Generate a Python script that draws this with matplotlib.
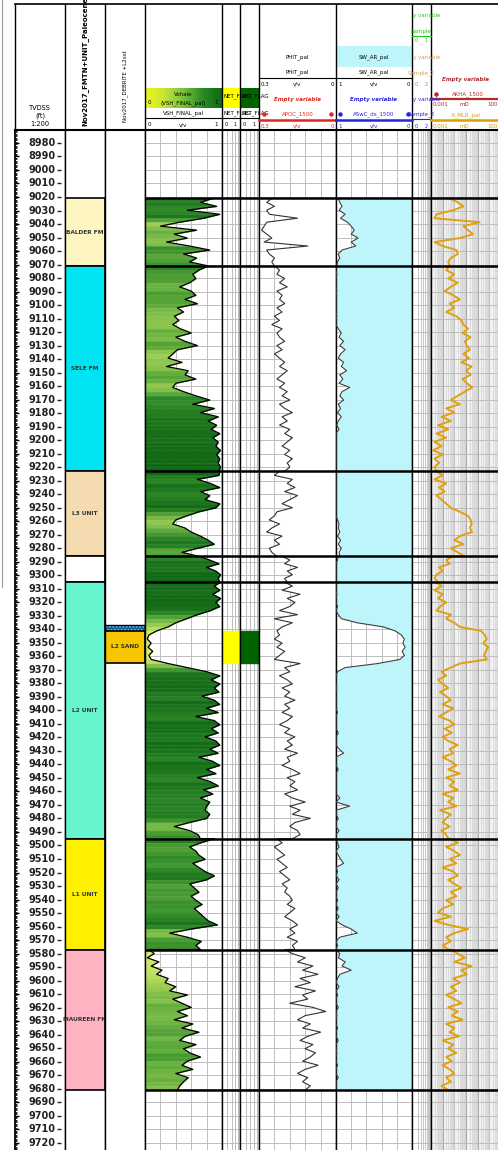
import numpy as np
import matplotlib
matplotlib.use('Agg')
import matplotlib.pyplot as plt
from matplotlib.colors import LinearSegmentedColormap
from matplotlib.patches import Rectangle
from matplotlib.lines import Line2D
from matplotlib.ticker import LogLocator, NullFormatter, FixedLocator

W, H = 498, 1150
HEAD = 130
D_TOP, D_BOT = 8970.4, 9725.4

# formation / unit tops
zone_tops = [9021, 9071, 9223, 9286, 9305, 9495, 9577]
zone_bases = [9071, 9223, 9286, 9305, 9495, 9577, 9681]
zone_names = ['BALDER FM', 'SELE FM', 'L3 UNIT', '', 'L2 UNIT', 'L1 UNIT', 'MAUREEN FM']
zone_colors = ['#fdf6c3', '#00e4f2', '#f4dcb0', '#ffffff', '#66f5cf', '#fff000', '#ffb3c1']

# debrite / sand
debrite_top, sand_top, sand_base = 9337, 9341, 9365
net_tops = [9341]
net_bases = [9365]

# VSH_FINAL_pal (v/v), one list per zone
vsh_balder = [0.88, 0.72, 0.93, 0.55, 0.97, 0.76, 0.45, 0.20, 0.67, 0.38, 0.55, 0.28, 0.58, 0.84, 0.50, 0.67, 0.58, 0.82]
vsh_sele = [0.82, 0.70, 0.62, 0.66, 0.58, 0.45, 0.60, 0.66, 0.52, 0.68,
            0.42, 0.50, 0.38, 0.44, 0.36, 0.46, 0.60, 0.40, 0.52, 0.68,
            0.42, 0.36, 0.30, 0.48, 0.28, 0.56, 0.52, 0.66, 0.40, 0.36,
            0.50, 0.66, 0.84, 0.62, 0.90, 0.72, 0.95, 0.82, 0.93, 0.86,
            0.97, 0.88, 0.95, 0.92, 0.98, 0.93, 0.97, 0.95, 0.98, 0.96]
vsh_l3 = [0.97, 0.96, 0.68, 0.85, 0.97, 0.72, 0.84, 0.78, 0.97, 0.92, 0.70,
          0.54, 0.40, 0.36, 0.52, 0.60, 0.72, 0.82, 0.90, 0.68, 0.48, 0.70]
vsh_gap = [0.70, 0.84, 0.96, 0.80, 0.92, 0.98, 0.95, 0.97]
vsh_l2 = [0.98, 0.90, 0.97, 0.88, 0.98, 0.92, 0.97, 0.85, 0.68, 0.54,
          0.40, 0.30, 0.15, 0.05, 0.03, 0.08, 0.04, 0.10, 0.05, 0.08,
          0.30, 0.55, 0.80, 0.97, 0.86, 0.97, 0.90, 0.96, 0.74, 0.90,
          0.97, 0.80, 0.95, 0.66, 0.90, 0.97, 0.86, 0.95, 0.78, 0.92,
          0.97, 0.84, 0.95, 0.70, 0.88, 0.97, 0.80, 0.92, 0.68, 0.85,
          0.95, 0.76, 0.88, 0.72, 0.84, 0.80, 0.78, 0.84, 0.80, 0.58,
          0.38, 0.58, 0.69, 0.72]
vsh_l1 = [0.90, 0.72, 0.58, 0.66, 0.70, 0.78, 0.62, 0.70, 0.78, 0.90,
          0.80, 0.58, 0.64, 0.70, 0.60, 0.66, 0.74, 0.64, 0.70, 0.76,
          0.82, 0.94, 0.60, 0.32, 0.55, 0.73, 0.66, 0.72]
vsh_maureen = [0.05, 0.12, 0.03, 0.18, 0.08, 0.22, 0.15, 0.30, 0.26, 0.40,
               0.32, 0.55, 0.36, 0.48, 0.60, 0.42, 0.55, 0.38, 0.62, 0.48,
               0.70, 0.52, 0.45, 0.66, 0.50, 0.58, 0.72, 0.55, 0.48, 0.62,
               0.40, 0.56, 0.50, 0.45, 0.42]

# PHIT_pal (v/v)
phit_balder = [0.25, 0.27, 0.24, 0.27, 0.26, 0.15, 0.27, 0.28, 0.29, 0.27, 0.25, 0.28, 0.11, 0.27, 0.26, 0.24, 0.25, 0.24]
phit_sele = [0.24, 0.22, 0.23, 0.20, 0.22, 0.19, 0.23, 0.21, 0.22, 0.20,
             0.23, 0.21, 0.24, 0.22, 0.25, 0.21, 0.23, 0.22, 0.20, 0.23,
             0.21, 0.24, 0.22, 0.20, 0.22, 0.19, 0.21, 0.23, 0.20, 0.22,
             0.19, 0.21, 0.18, 0.22, 0.20, 0.17, 0.21, 0.19, 0.22, 0.18,
             0.20, 0.17, 0.19, 0.21, 0.18, 0.20, 0.17, 0.19, 0.18, 0.20]
phit_l3 = [0.22, 0.24, 0.17, 0.19, 0.16, 0.20, 0.15, 0.18, 0.21, 0.17, 0.23,
           0.24, 0.26, 0.22, 0.25, 0.27, 0.21, 0.24, 0.22, 0.26, 0.25, 0.23]
phit_gap = [0.21, 0.18, 0.20, 0.15, 0.19, 0.17, 0.20, 0.19]
phit_l2 = [0.20, 0.17, 0.21, 0.14, 0.19, 0.16, 0.18, 0.22, 0.15, 0.24,
           0.17, 0.21, 0.23, 0.22, 0.24, 0.21, 0.23, 0.20, 0.22, 0.24,
           0.14, 0.20, 0.18, 0.22, 0.19, 0.17, 0.21, 0.18, 0.20, 0.16,
           0.20, 0.18, 0.21, 0.17, 0.19, 0.22, 0.18, 0.20, 0.16, 0.19,
           0.17, 0.20, 0.15, 0.19, 0.18, 0.21, 0.17, 0.14, 0.19, 0.16,
           0.18, 0.15, 0.20, 0.17, 0.12, 0.18, 0.14, 0.17, 0.10, 0.16,
           0.18, 0.15, 0.14, 0.17]
phit_l1 = [0.23, 0.21, 0.24, 0.22, 0.20, 0.23, 0.21, 0.19, 0.22, 0.20,
           0.18, 0.21, 0.19, 0.20, 0.18, 0.17, 0.19, 0.16, 0.18, 0.20,
           0.17, 0.15, 0.18, 0.16, 0.19, 0.15, 0.17, 0.16]
phit_maureen = [0.20, 0.17, 0.12, 0.15, 0.09, 0.13, 0.07, 0.14, 0.10, 0.16,
                0.08, 0.13, 0.11, 0.18, 0.09, 0.04, 0.12, 0.15, 0.10, 0.13,
                0.06, 0.11, 0.14, 0.09, 0.12, 0.08, 0.10, 0.13, 0.07, 0.12,
                0.15, 0.11, 0.13, 0.10, 0.12]

# SW_AR_pal (v/v)
sw_balder = [0.97, 0.95, 0.92, 0.96, 0.88, 0.94, 0.85, 0.80, 0.76, 0.80, 0.71, 0.80, 0.74, 0.92, 0.97, 0.95, 0.98, 0.99]
sw_sele = [1.00, 1.00, 0.99, 1.00, 1.00, 1.00, 0.99, 1.00, 1.00, 1.00,
           1.00, 1.00, 0.99, 1.00, 1.00, 0.97, 0.93, 0.96, 0.90, 0.95,
           0.88, 0.94, 0.97, 0.90, 0.93, 0.86, 0.95, 0.91, 0.96, 0.82,
           0.92, 0.95, 0.90, 0.97, 0.94, 0.98, 0.93, 0.97, 0.99, 0.96,
           1.00, 1.00, 1.00, 1.00, 1.00, 1.00, 1.00, 1.00, 1.00, 1.00]
sw_l3 = [1.00, 1.00, 1.00, 1.00, 1.00, 1.00, 1.00, 1.00, 1.00, 1.00, 1.00,
         1.00, 0.98, 0.96, 0.97, 0.95, 0.98, 0.94, 0.97, 0.93, 0.96, 0.95]
sw_gap = [0.97, 0.98, 1.00, 1.00, 1.00, 1.00, 1.00, 1.00]
sw_l2 = [1.00, 1.00, 1.00, 0.99, 1.00, 1.00, 0.98, 1.00, 0.97, 0.93,
         0.72, 0.38, 0.22, 0.14, 0.10, 0.12, 0.09, 0.13, 0.10, 0.16,
         0.45, 0.88, 0.98, 1.00, 1.00, 1.00, 0.99, 1.00, 1.00, 1.00,
         1.00, 1.00, 0.98, 1.00, 1.00, 1.00, 1.00, 0.97, 1.00, 1.00,
         1.00, 0.96, 0.90, 1.00, 1.00, 1.00, 0.97, 1.00, 1.00, 1.00,
         1.00, 1.00, 1.00, 0.95, 1.00, 0.82, 1.00, 1.00, 0.97, 1.00,
         1.00, 0.96, 1.00, 1.00]
sw_l1 = [1.00, 0.98, 0.96, 1.00, 0.97, 0.94, 0.90, 1.00, 0.98, 1.00,
         0.96, 1.00, 0.97, 1.00, 1.00, 0.98, 1.00, 0.97, 1.00, 0.96,
         1.00, 0.92, 0.80, 0.72, 0.95, 1.00, 0.98, 1.00]
sw_maureen = [1.00, 0.95, 0.97, 0.88, 0.92, 0.80, 0.95, 0.98, 1.00, 0.96,
              1.00, 0.98, 1.00, 1.00, 0.97, 1.00, 0.99, 1.00, 1.00, 0.98,
              1.00, 1.00, 0.97, 1.00, 1.00, 0.99, 1.00, 1.00, 0.98, 1.00,
              1.00, 0.97, 1.00, 1.00, 1.00]

# K_MLR_pal (mD)
k_balder = [0.04, 0.2, 0.6, 0.08, 0.003, 0.002, 15, 0.6, 1.5, 4, 0.3, 0.002, 0.01, 0.15, 0.2, 0.05, 0.03, 0.04]
k_sele = [0.04, 0.02, 0.1, 0.03, 0.2, 0.05, 0.015, 0.08, 0.3, 0.04,
          0.1, 0.02, 0.15, 0.4, 0.6, 1.5, 0.5, 2.5, 0.8, 1.2,
          2.2, 0.6, 1.8, 0.4, 3, 1, 2.5, 0.5, 1.2, 3.5,
          0.8, 0.2, 0.05, 0.3, 0.02, 0.1, 0.008, 0.05, 0.004, 0.03,
          0.003, 0.02, 0.002, 0.008, 0.0015, 0.01, 0.002, 0.005, 0.002, 0.003]
k_l3 = [0.003, 0.01, 0.002, 0.02, 0.005, 0.015, 0.003, 0.008, 0.02, 0.05, 0.3,
        1.5, 2.5, 3.0, 2.2, 3.2, 0.3, 0.1, 0.6, 0.05, 0.2, 0.8]
k_gap = [0.08, 0.02, 0.04, 0.005, 0.01, 0.003, 0.002, 0.004]
k_l2 = [0.003, 0.008, 0.002, 0.01, 0.004, 0.02, 0.006, 0.003, 0.05, 0.02,
        0.1, 0.3, 20, 40, 60, 30, 80, 50, 35, 60,
        0.3, 0.05, 0.008, 0.02, 0.004, 0.01, 0.03, 0.006, 0.02, 0.05,
        0.01, 0.08, 0.02, 0.005, 0.04, 0.1, 0.015, 0.06, 0.01, 0.03,
        0.2, 0.04, 0.08, 0.01, 0.05, 0.15, 0.03, 0.3, 0.02, 0.1,
        0.04, 0.2, 0.01, 0.08, 0.03, 0.15, 0.006, 0.05, 0.02, 0.01,
        0.04, 0.008, 0.02, 0.03]
k_l1 = [0.05, 0.2, 0.02, 0.1, 0.3, 0.04, 0.15, 0.01, 0.08, 0.2,
        0.03, 0.1, 0.4, 0.05, 0.15, 0.02, 0.08, 0.01, 0.004, 0.05,
        0.002, 0.03, 1.5, 0.1, 0.02, 0.05, 0.01, 0.03]
k_maureen = [0.05, 0.2, 0.8, 0.1, 3, 0.4, 1.2, 0.08, 0.3, 0.05,
             0.15, 0.02, 0.1, 0.4, 0.03, 0.2, 0.06, 0.5, 0.02, 0.1,
             0.04, 0.25, 0.01, 0.08, 0.03, 0.15, 0.02, 0.06, 0.01, 0.04,
             0.1, 0.02, 0.05, 0.008, 0.03]

grid_depths = np.arange(8980, 9721, 10)
GRID = '#bdbdbd'


def build(parts):
    d, v = [], []
    for top, base, vals in zip(zone_tops, zone_bases, parts):
        d.append(np.linspace(top, base, len(vals)))
        v.append(np.asarray(vals, float))
    return np.concatenate(d), np.concatenate(v)


dep, vsh = build([vsh_balder, vsh_sele, vsh_l3, vsh_gap, vsh_l2, vsh_l1, vsh_maureen])
dep_p, phit = build([phit_balder, phit_sele, phit_l3, phit_gap, phit_l2, phit_l1, phit_maureen])
dep_s, sw = build([sw_balder, sw_sele, sw_l3, sw_gap, sw_l2, sw_l1, sw_maureen])
dep_k, perm = build([k_balder, k_sele, k_l3, k_gap, k_l2, k_l1, k_maureen])
boundaries = sorted(set(zone_tops + zone_bases))

fig = plt.figure(figsize=(W / 100, H / 100), dpi=100)
plt.rcParams['font.family'] = ['DejaVu Sans']


def track(x0, x1):
    ax = fig.add_axes([x0 / W, 0, (x1 - x0) / W, (H - HEAD) / H])
    ax.set_ylim(D_BOT, D_TOP)
    for s in ['top', 'bottom']:
        ax.spines[s].set_visible(False)
    for s in ['left', 'right']:
        ax.spines[s].set_linewidth(1.0)
    return ax


def finish(ax, grid=True):
    if grid:
        ax.yaxis.set_major_locator(FixedLocator(grid_depths))
        ax.grid(axis='y', which='major', color=GRID, lw=0.7)
        ax.set_axisbelow(True)
    ax.tick_params(which='both', left=False, bottom=False, right=False, top=False,
                   labelleft=False, labelbottom=False)


def formation_lines(ax):
    for b in boundaries:
        ax.axhline(b, color='black', lw=1.8, zorder=5)


# ---- depth track
dax = track(15, 65)
dax.set_xlim(0, 50)
dax.hlines(np.arange(8971, 9726, 1), 0, 2.2, color='black', lw=0.6)
dax.hlines(grid_depths, 0, 4, color='black', lw=1.0)
dax.hlines(grid_depths, 41.5, 46, color='#222222', lw=1.0)
for d in grid_depths:
    dax.text(40.5, d, f'{d}', ha='right', va='center', fontsize=7,
             fontweight='bold', color='#222222')
dax.spines['left'].set_linewidth(1.3)
finish(dax, grid=False)

# ---- formation track
fax = track(65, 105)
fax.set_xlim(0, 1)
for top, base, name, col in zip(zone_tops, zone_bases, zone_names, zone_colors):
    p = fax.axhspan(top, base, facecolor=col, edgecolor='black', lw=1.2)
    if name:
        t = fax.text(0.5, (top + base) / 2, name, ha='center', va='center',
                     fontsize=4.2, fontweight='bold', color='#333333')
        t.set_clip_path(p)
finish(fax, grid=False)

# ---- debrite track
bax = track(105, 145)
bax.set_xlim(0, 1)
bax.axhspan(debrite_top, sand_top, facecolor='#0b5a96', edgecolor='#7fd0ff',
            hatch='.....', lw=0)
bax.axhspan(debrite_top, sand_top, facecolor='none', edgecolor='black', lw=1.0)
bax.axhspan(sand_top, sand_base, facecolor='#f7c600', edgecolor='black', lw=1.2)
bax.text(0.5, (sand_top + sand_base) / 2, 'L2 SAND', ha='center', va='center',
         fontsize=4.2, fontweight='bold', color='#333333')
finish(bax, grid=False)

# ---- Vshale track
vcmap = LinearSegmentedColormap.from_list(
    'vsh', ['#e2f46c', '#b2da5c', '#6fb543', '#2c8826', '#0c6313'])
vax = track(145, 222)
vax.set_xlim(0, 1)
vax.xaxis.set_major_locator(FixedLocator([0.2, 0.4, 0.6, 0.8]))
vax.grid(axis='x', color=GRID, lw=0.7)
for i in range(len(dep) - 1):
    c = vcmap((vsh[i] + vsh[i + 1]) / 2)
    vax.fill_betweenx(dep[i:i + 2], 0, vsh[i:i + 2], facecolor=c, edgecolor=c, lw=0.3)
vax.plot(vsh, dep, color='black', lw=0.9, zorder=3)
formation_lines(vax)
finish(vax)

# ---- net flag tracks
for x0, x1, col in [(222, 240, '#ffff00'), (240, 259, '#006400')]:
    nax = track(x0, x1)
    nax.set_xlim(0, 1)
    nax.xaxis.set_major_locator(FixedLocator([0.3, 0.55, 0.74, 0.89]))
    nax.grid(axis='x', color=GRID, lw=0.7)
    for t0, t1 in zip(net_tops, net_bases):
        nax.fill_betweenx([t0, t1], 0, 1, color=col, zorder=2)
    formation_lines(nax)
    finish(nax)

# ---- PHIT track
pax = track(259, 336)
pax.set_xlim(0.3, 0)
pax.xaxis.set_major_locator(FixedLocator([0.06, 0.12, 0.18, 0.24]))
pax.grid(axis='x', color=GRID, lw=0.7)
pax.fill_betweenx(dep_p, phit, 0, color='white', lw=0, zorder=2)
pax.plot(phit, dep_p, color='#333333', lw=0.8, zorder=3)
formation_lines(pax)
finish(pax)

# ---- SW track
sax = track(336, 412)
sax.set_xlim(1, 0)
sax.xaxis.set_major_locator(FixedLocator([0.2, 0.4, 0.6, 0.8]))
sax.grid(axis='x', color=GRID, lw=0.7)
sax.fill_betweenx(dep_s, sw, 0, color='#bdf5fa', lw=0, zorder=2)
sax.plot(sw, dep_s, color='#404040', lw=0.8, zorder=3)
formation_lines(sax)
finish(sax)

# ---- small sample track
yax = track(412, 431)
yax.set_xscale('log')
yax.set_xlim(1, 10)
yax.xaxis.set_major_locator(FixedLocator([]))
yax.xaxis.set_minor_locator(FixedLocator(np.arange(2, 10)))
yax.xaxis.set_minor_formatter(NullFormatter())
yax.grid(axis='x', which='minor', color=GRID, lw=0.6)
formation_lines(yax)
finish(yax)

# ---- permeability track
kax = track(431, 501)
kax.set_facecolor('#f1f1f1')
kax.set_xscale('log')
kax.set_xlim(1e-3, 1e3)
kax.xaxis.set_major_locator(LogLocator(base=10, numticks=12))
kax.xaxis.set_minor_locator(LogLocator(base=10, subs=np.arange(2, 10), numticks=12))
kax.xaxis.set_minor_formatter(NullFormatter())
kax.grid(axis='x', which='major', color='#a8a8a8', lw=0.7)
kax.grid(axis='x', which='minor', color='#d2d2d2', lw=0.5)
kax.plot(perm, dep_k, color='#e0a010', lw=1.4, zorder=3)
formation_lines(kax)
finish(kax)

# ---- header
hx = fig.add_axes([0, 1 - HEAD / H, 1, HEAD / H])
hx.set_xlim(0, W)
hx.set_ylim(HEAD, 0)
hx.axis('off')

hcmap = LinearSegmentedColormap.from_list(
    'hdr', ['#eef51c', '#c6e535', '#78c13a', '#2a8b22', '#0d6a12'])
hx.imshow(np.linspace(0, 1, 256)[None, :], cmap=hcmap, extent=[145, 222, 108, 88],
          aspect='auto', zorder=1)
hx.add_patch(Rectangle((222, 88), 18, 20, facecolor='#ffff00', lw=0, zorder=1))
hx.add_patch(Rectangle((240, 88), 19, 20, facecolor='#006400', lw=0, zorder=1))
hx.add_patch(Rectangle((336, 46), 76, 21, facecolor='#bdf5fa', lw=0, zorder=1))
hx.set_xlim(0, W)
hx.set_ylim(HEAD, 0)


def hl(y, x0, x1, c='black', lw=0.8):
    hx.plot([x0, x1], [y, y], color=c, lw=lw, clip_on=False, zorder=3)


for x in [15, 65, 105, 145, 222, 240, 259, 336, 412, 431]:
    hx.plot([x, x], [4, HEAD], color='black', lw=1.0, clip_on=False, zorder=3)
hl(4, 15, W, lw=1.2)
hl(HEAD, 15, W, lw=1.5)
hl(118, 145, 259)
hl(78, 259, 412)


def ht(x, y, s, clip=None, **kw):
    kw.setdefault('fontsize', 4)
    kw.setdefault('ha', 'center')
    kw.setdefault('va', 'center')
    t = hx.text(x, y, s, zorder=4, **kw)
    if clip is not None:
        r = Rectangle((clip[0], 4), clip[1] - clip[0], HEAD - 4, transform=hx.transData)
        t.set_clip_path(r)
    return t


# depth header
ht(40, 108, 'TVDSS', fontsize=4.8)
ht(40, 116, '(ft)', fontsize=4.8)
ht(40, 124, '1:200', fontsize=4.8)
ht(85, 126, 'Nov2017_FMTN+UNIT_Paleocene', rotation=90, va='bottom',
   fontsize=5, fontweight='bold', clip=(65, 105))
ht(125, 122, 'Nov2017_DEBRITE +L2sst', rotation=90, va='bottom', fontsize=4,
   clip=(105, 145))

# vshale header
ht(183.5, 94.5, 'Vshale')
ht(148, 103, '0', ha='left')
ht(183.5, 103, '(VSH_FINAL_pal)')
ht(218, 103, '1', ha='right')
ht(183.5, 113, 'VSH_FINAL_pal')
ht(148, 125, '0', ha='left')
ht(183.5, 125, 'v/v')
ht(218, 125, '1', ha='right')

# net flag header
for x0, x1 in [(222, 240), (240, 259)]:
    ht(x0 + 1, 96, 'NET_FLAG', ha='left', clip=(x0, x1))
    ht(x0 + 1, 113, 'NET_FLAG', ha='left', clip=(x0, x1))
    ht(x0 + 3, 125, '0', ha='left', fontsize=3.6)
    ht(x1 - 3, 125, '1', ha='right', fontsize=3.6)

# PHIT header
red = '#e8231e'
ht(297.5, 57, 'PHIT_pal')
ht(297.5, 72, 'PHIT_pal')
ht(261, 84, '0.3', ha='left')
ht(297.5, 84, 'v/v')
ht(334, 84, '0', ha='right')
ht(297.5, 99, 'Empty variable', color=red, fontweight='bold', style='italic')
hx.plot([264, 331], [114, 114], 'o', color=red, ms=2.2, zorder=4)
ht(297.5, 114.5, 'APOC_1500', color=red)
hl(120, 259, 336, c=red, lw=1.8)
ht(261, 126, '0.3', ha='left', color=red)
ht(297.5, 126, 'v/v', color=red)
ht(334, 126, '0', ha='right', color=red)

# SW header
blue = '#2424e6'
ht(374, 57, 'SW_AR_pal')
ht(374, 72, 'SW_AR_pal')
ht(338, 84, '1', ha='left')
ht(374, 84, 'v/v')
ht(410, 84, '0', ha='right')
ht(374, 99, 'Empty variable', color=blue, fontweight='bold', style='italic')
hx.plot([340, 408], [114, 114], 'o', color=blue, ms=2.2, zorder=4)
ht(374, 114.5, 'ASwC_ds_1500', color=blue)
hl(120, 336, 412, c=blue, lw=1.8)
ht(338, 126, '1', ha='left', color=blue)
ht(374, 126, 'v/v', color=blue)
ht(410, 126, '0', ha='right', color=blue)

# small sample track header
green, tan = '#1ec81e', '#c9a062'
ht(413, 15, 'y variable', ha='left', color=green, clip=(412, 431))
ht(421.5, 32, 'Sample', color=green, clip=(412, 431))
hl(36, 412, 431, c=green, lw=0.8)
ht(415, 41, '0', ha='left', color=green, fontsize=3.6)
ht(428, 41, '1', ha='right', color=green, fontsize=3.6)
ht(413, 57, 'y variable', ha='left', color=tan, clip=(412, 431))
ht(421.5, 73, 'Sample_2', color=tan, clip=(412, 431))
ht(415, 84, '0', ha='left', color='#888888', fontsize=3.6)
ht(428, 84, '2', ha='right', color='#888888', fontsize=3.6)
ht(413, 99, 'y variable', ha='left', color=blue, clip=(412, 431))
ht(421.5, 114.5, 'Sample_3', color=blue, clip=(412, 431))
hl(118.5, 412, 431, c=blue, lw=0.8)
ht(415, 126, '0', ha='left', color=blue, fontsize=3.6)
ht(428, 126, '2', ha='right', color=blue, fontsize=3.6)

# permeability header
dred, orange = '#b02a2a', '#d9a000'
ht(466, 79, 'Empty variable', color=dred, fontweight='bold', style='italic')
hx.plot([436], [93.5], 'o', color=dred, ms=2.2, zorder=4)
ht(468, 94, 'AKHA_1500', color=dred)
hl(98.5, 431, W, c=dred, lw=1.6)
ht(433, 105, '0.001', ha='left', color=dred)
ht(464, 105, 'mD', color=dred)
ht(501, 105, '1000', ha='right', color=dred)
ht(466, 115, 'K_MLR_pal', color=orange)
hl(120, 431, W, c=orange, lw=1.8)
ht(433, 126, '0.001', ha='left', color=orange)
ht(464, 126, 'mD', color=orange)
ht(501, 126, '1000', ha='right', color=orange)

fig.add_artist(Line2D([2 / W, 2 / W], [1 - 587 / H, 1], color='#9a9a9a', lw=0.8))

fig.savefig('out.png', dpi=100)
